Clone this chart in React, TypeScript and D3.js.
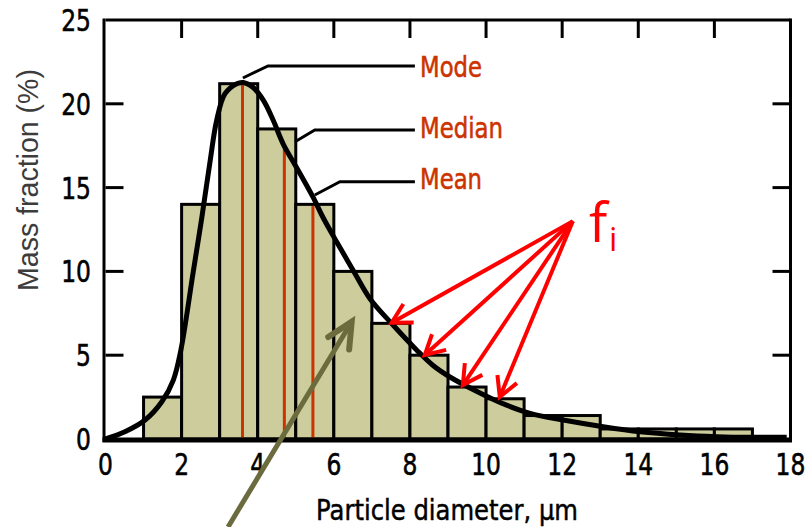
import React from "react";
import * as d3 from "d3";

const binStarts = [1, 2, 3, 4, 5, 6, 7, 8, 9, 10, 11, 12, 13, 14, 15, 16];
const binValues = [2.5, 14, 21.2, 18.5, 14, 10, 6.9, 5.0, 3.1, 2.4, 1.4, 1.4, 0.6, 0.6, 0.6, 0.6];
const xTicks = [0, 2, 4, 6, 8, 10, 12, 14, 16, 18];
const yTicks = [0, 5, 10, 15, 20, 25];
const curveX = [0, 0.51, 1.04, 1.48, 1.78, 1.98, 2.3, 2.53, 2.75, 2.92, 3.14, 3.45, 3.62, 3.88, 4.15, 4.41, 4.67, 5.02, 5.46, 5.72, 6.08, 6.51, 6.95, 7.52, 8.18, 8.6, 9.05, 9.84, 10.54, 11.16, 12.03, 13.08, 14.05, 15.1, 16.06, 17.02, 17.9];
const curveY = [0, 0.43, 1.13, 2.22, 3.5, 5.3, 9.9, 13.2, 16.6, 19.0, 20.6, 21.2, 21.27, 20.97, 20.2, 19.0, 17.6, 16.2, 14.4, 13.2, 11.74, 10.06, 8.37, 6.89, 5.3, 4.4, 3.7, 2.75, 2.02, 1.53, 1.13, 0.73, 0.43, 0.24, 0.14, 0.1, 0.1];
const statNames = ["Mode", "Median", "Mean"];
const statX = [3.6, 4.7, 5.45];
const statTop = [21.2, 17.3, 13.9];
const leaderStart = [[3.61, 21.54], [4.98, 17.74], [5.5, 14.56]];
const leaderBend = [[4.27, 22.26], [5.5, 18.44], [6.16, 15.35]];
const leaderEndX = 8.13;
const fiOrigin = [12.28, 13.0];
const fiTips = [[7.52, 6.94], [8.39, 5.01], [9.39, 3.22], [10.36, 2.51]];
const oliveFrom = [3.22, -5.25];
const oliveTo = [6.47, 7.0];

const W = 805, H = 527;
const x = d3.scaleLinear().domain([0, 18]).range([105.5, 790.5]);
const y = d3.scaleLinear().domain([0, 25]).range([439, 20]);

function arrowHead(x0: number, y0: number, x1: number, y1: number, len: number, ang: number) {
  const a = Math.atan2(y0 - y1, x0 - x1);
  const p1 = [x1 + len * Math.cos(a + ang), y1 + len * Math.sin(a + ang)];
  const p2 = [x1 + len * Math.cos(a - ang), y1 + len * Math.sin(a - ang)];
  return `M${p1[0]},${p1[1]}L${x1},${y1}L${p2[0]},${p2[1]}`;
}

export default function App() {
  const line = d3.line<number>().x((_, i) => x(curveX[i])).y((_, i) => y(curveY[i])).curve(d3.curveCatmullRom.alpha(0.5));
  const curvePath = line(curveX) || "";
  const fontPix = "'DejaVu Sans', sans-serif";
  const inner = [5, 10, 15, 20];
  const topTicks = [2, 4, 6, 8, 10, 12, 14, 16];
  const ox = x(oliveFrom[0]), oy = y(oliveFrom[1]), tx = x(oliveTo[0]), ty = y(oliveTo[1]);
  const fox = x(fiOrigin[0]), foy = y(fiOrigin[1]);
  const statBaseline = [77, 138, 189];
  const statWidth = [62, 83, 62];
  return (
    <svg width={W} height={H} style={{ position: "absolute", left: 0, top: 0, background: "#fff" }}>
      {binStarts.map((b, i) => (
        <rect key={i} x={x(b)} y={y(binValues[i])} width={x(b + 1) - x(b)} height={y(0) - y(binValues[i])}
          fill="#cccc9c" stroke="#000" strokeWidth={3} />
      ))}
      {statX.map((s, i) => (
        <line key={i} x1={x(s)} x2={x(s)} y1={y(0)} y2={y(statTop[i])} stroke="#cc3300" strokeWidth={3} />
      ))}
      <path d={curvePath} fill="none" stroke="#000" strokeWidth={5} strokeLinejoin="round" />
      <line x1={x(0)} x2={x(18)} y1={y(25)} y2={y(25)} stroke="#000" strokeWidth={3} />
      <line x1={x(0) - 1.5} x2={x(0) - 1.5} y1={y(25) - 1.5} y2={y(0) + 3} stroke="#000" strokeWidth={3} />
      <line x1={x(18)} x2={x(18)} y1={y(25) - 1.5} y2={y(0) + 3} stroke="#000" strokeWidth={3} />
      <line x1={x(0) - 3} x2={x(18) + 1.5} y1={y(0) + 1} y2={y(0) + 1} stroke="#000" strokeWidth={5} />
      {inner.map((t) => (
        <g key={t}>
          <line x1={x(0)} x2={x(0) + 18} y1={y(t)} y2={y(t)} stroke="#000" strokeWidth={3} />
          <line x1={x(18) - 18} x2={x(18)} y1={y(t)} y2={y(t)} stroke="#000" strokeWidth={3} />
        </g>
      ))}
      {topTicks.map((t) => (
        <line key={t} x1={x(t)} x2={x(t)} y1={y(25)} y2={y(25) + 18} stroke="#000" strokeWidth={3} />
      ))}
      {yTicks.map((t) => (
        <text key={t} transform={`translate(91,${y(t) + 11}) scale(0.78,1)`} textAnchor="end"
          fontFamily={fontPix} fontSize={30} fill="#000" stroke="#000" strokeWidth={0.6}>{t}</text>
      ))}
      {xTicks.map((t) => (
        <text key={t} transform={`translate(${x(t)},${475}) scale(0.78,1)`} textAnchor="middle"
          fontFamily={fontPix} fontSize={30} fill="#000" stroke="#000" strokeWidth={0.6}>{t}</text>
      ))}
      <text x={316} y={520} textLength={262} lengthAdjust="spacingAndGlyphs" fontFamily={fontPix} fontSize={28} fill="#000" stroke="#000" strokeWidth={0.5}>Particle diameter, µm</text>
      <text transform="translate(38,291) rotate(-90)" textLength={222} lengthAdjust="spacingAndGlyphs"
        fontFamily="'Liberation Sans', Arial, sans-serif" fontSize={30} fill="#3c3c3c">Mass fraction (%)</text>
      {statNames.map((n, i) => (
        <g key={n}>
          <polyline points={`${x(leaderStart[i][0])},${y(leaderStart[i][1])} ${x(leaderBend[i][0])},${y(leaderBend[i][1])} ${x(leaderEndX)},${y(leaderBend[i][1])}`}
            fill="none" stroke="#000" strokeWidth={3} />
          <text x={420} y={statBaseline[i]} textLength={statWidth[i]} lengthAdjust="spacingAndGlyphs"
            fontFamily={fontPix} fontSize={29} fill="#cc3300" stroke="#cc3300" strokeWidth={0.6}>{n}</text>
        </g>
      ))}
      {fiTips.map((t, i) => {
        const tx2 = x(t[0]), ty2 = y(t[1]);
        return (
          <g key={i}>
            <line x1={fox} y1={foy} x2={tx2} y2={ty2} stroke="#ff0000" strokeWidth={4} />
            <path d={arrowHead(fox, foy, tx2, ty2, 22, 0.5)} fill="none" stroke="#ff0000" strokeWidth={4} />
          </g>
        );
      })}
      <text x={589} y={242} fontFamily="'Open Sans', sans-serif" fontSize={54} fill="#ff0000">f</text>
      <text x={609} y={251} fontFamily="'Open Sans', sans-serif" fontSize={33} fill="#ff0000">i</text>
      <line x1={ox} y1={oy} x2={tx} y2={ty} stroke="#6b6b3e" strokeWidth={5} />
      <path d={arrowHead(ox, oy, tx, ty, 28, 0.45)} fill="none" stroke="#6b6b3e" strokeWidth={6} strokeLinecap="round" />
    </svg>
  );
}
